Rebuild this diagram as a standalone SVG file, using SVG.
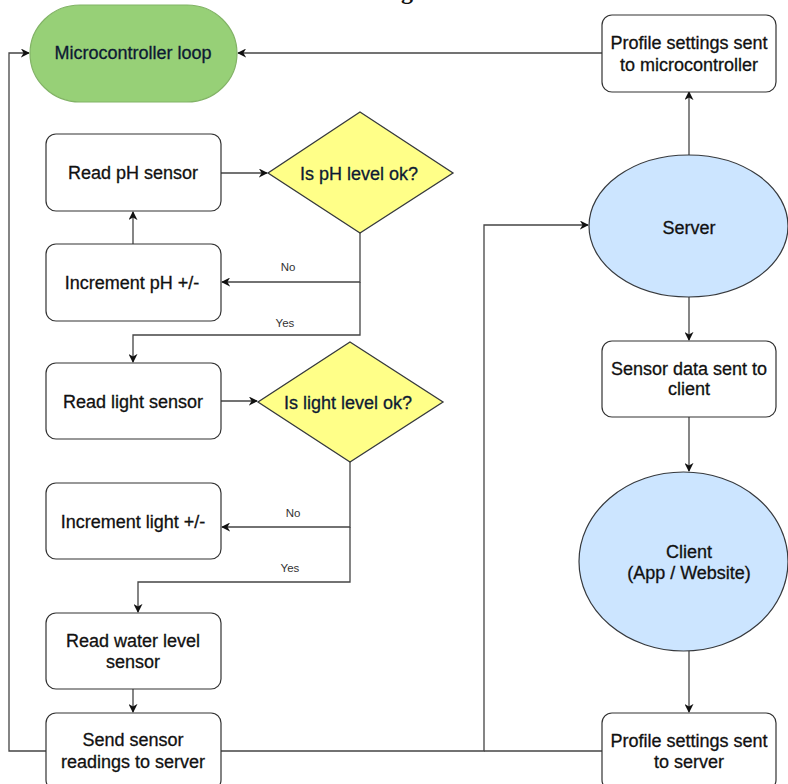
<svg xmlns="http://www.w3.org/2000/svg" width="788" height="784" viewBox="0 0 788 784">
<defs>
<marker id="arr" viewBox="0 0 10 10" refX="9" refY="5" markerWidth="9" markerHeight="9" markerUnits="userSpaceOnUse" orient="auto">
<path d="M0,0 L10,5 L0,10 L3,5 Z" fill="#111"/>
</marker>
<style>
.box{fill:#fff;stroke:#333;stroke-width:1.2}
.t{font-family:"Liberation Sans",Arial,sans-serif;font-size:18px;fill:#111;stroke:#111;stroke-width:0.3;text-anchor:middle}
.tn{font-family:"Liberation Sans",Arial,sans-serif;font-size:18px;fill:#0d1a33;stroke:#0d1a33;stroke-width:0.3;text-anchor:middle}
.lbl{font-family:"Liberation Sans",Arial,sans-serif;font-size:11.5px;fill:#333;text-anchor:middle}
.c{fill:none;stroke:#444;stroke-width:1.3;marker-end:url(#arr)}
.cn{fill:none;stroke:#444;stroke-width:1.3}
.dia{fill:#ffff88;stroke:#36393d;stroke-width:1.3}
.ell{fill:#cce5ff;stroke:#36393d;stroke-width:1.2}
</style>
</defs>
<rect width="788" height="784" fill="#fff"/>
<text x="407" y="-1.5" font-family="'Liberation Serif',serif" font-weight="bold" font-size="24" text-anchor="middle" fill="#111">g</text>

<g id="connectors">
<path class="c" d="M602,53 L238,53"/>
<path class="c" d="M46,751 L9,751 L9,53 L29,53"/>
<path class="c" d="M133,244 L133,212"/>
<path class="c" d="M221,173 L267,173"/>
<path class="c" d="M360,233 L360,282 L222,282"/>
<path class="c" d="M360,282 L360,335 L133,335 L133,362"/>
<path class="c" d="M221,401 L257,401"/>
<path class="c" d="M350,462 L350,527 L222,527"/>
<path class="c" d="M350,527 L350,582 L138,582 L138,612"/>
<path class="c" d="M133,689 L133,712"/>
<path class="c" d="M221,751 L484,751 L484,225 L588,225"/>
<path class="cn" d="M602,751 L484,751"/>
<path class="c" d="M689,155 L689,92"/>
<path class="c" d="M689,297 L689,340"/>
<path class="c" d="M689,417 L689,471"/>
<path class="c" d="M689,651 L689,712"/>
<text class="lbl" x="288" y="271">No</text>
<text class="lbl" x="285" y="327">Yes</text>
<text class="lbl" x="293" y="517">No</text>
<text class="lbl" x="290" y="572">Yes</text>
</g>

<g id="microcontroller-loop">
<rect x="30" y="5" width="207" height="97" rx="50" ry="48.5" fill="#97d077" stroke="#82b366" stroke-width="1.2"/>
<text class="tn" x="133" y="59">Microcontroller loop</text>
</g>

<g id="read-ph">
<rect class="box" x="46" y="134" width="175" height="77" rx="10"/>
<text class="t" x="133" y="179">Read pH sensor</text>
</g>

<g id="ph-ok">
<polygon class="dia" points="360,112 453,173 360,233 268,173"/>
<text class="tn" x="359" y="180">Is pH level ok?</text>
</g>

<g id="inc-ph">
<rect class="box" x="46" y="244" width="175" height="77" rx="10"/>
<text class="t" x="132" y="289">Increment pH +/-</text>
</g>

<g id="read-light">
<rect class="box" x="46" y="363" width="175" height="76" rx="10"/>
<text class="t" x="133" y="408">Read light sensor</text>
</g>

<g id="light-ok">
<polygon class="dia" points="350,342 443,402 350,462 258,402"/>
<text class="tn" x="348" y="409">Is light level ok?</text>
</g>

<g id="inc-light">
<rect class="box" x="46" y="483" width="175" height="76" rx="10"/>
<text class="t" x="133" y="528">Increment light +/-</text>
</g>

<g id="read-water">
<rect class="box" x="46" y="613" width="175" height="76" rx="10"/>
<text class="t" x="133" y="647">Read water level</text>
<text class="t" x="133" y="668">sensor</text>
</g>

<g id="send-readings">
<rect class="box" x="46" y="713" width="175" height="77" rx="10"/>
<text class="t" x="133" y="746">Send sensor</text>
<text class="t" x="133" y="768">readings to server</text>
</g>

<g id="profile-micro">
<rect class="box" x="602" y="15" width="174" height="77" rx="10"/>
<text class="t" x="689" y="49">Profile settings sent</text>
<text class="t" x="689" y="71">to microcontroller</text>
</g>

<g id="server">
<ellipse class="ell" cx="688.5" cy="226" rx="99.5" ry="71"/>
<text class="t" x="689" y="234">Server</text>
</g>

<g id="sensor-data-client">
<rect class="box" x="602" y="341" width="174" height="76" rx="10"/>
<text class="t" x="689" y="375">Sensor data sent to</text>
<text class="t" x="689" y="395">client</text>
</g>

<g id="client">
<ellipse class="ell" cx="683.5" cy="561.5" rx="104.5" ry="89.5"/>
<text class="t" x="689" y="558">Client</text>
<text class="t" x="689" y="579">(App / Website)</text>
</g>

<g id="profile-server">
<rect class="box" x="602" y="713" width="174" height="77" rx="10"/>
<text class="t" x="689" y="747">Profile settings sent</text>
<text class="t" x="689" y="768">to server</text>
</g>
</svg>
